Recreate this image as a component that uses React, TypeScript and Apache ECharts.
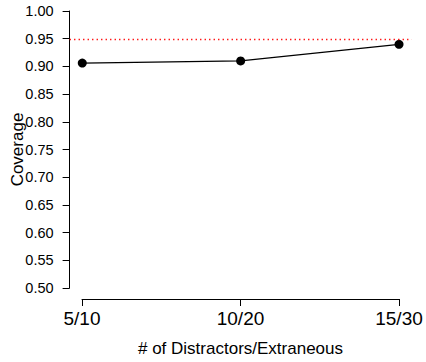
import React, { useEffect, useRef } from "react";
import * as echarts from "echarts";

const categories = ["5/10", "10/20", "15/30"];
const coverage = [0.906, 0.91, 0.94];
const nominal = 0.95;
const yTicks = { min: 0.5, max: 1.0, step: 0.05 };
const xTitle = "# of Distractors/Extraneous";
const yTitle = "Coverage";

const FONT = "'Liberation Sans', Arial, Helvetica, sans-serif";

export default function App() {
  const ref = useRef<HTMLDivElement>(null);
  useEffect(() => {
    if (!ref.current) return;
    const chart = echarts.init(ref.current, null, { renderer: "svg" });
    const pts = coverage.map((v, i) => [i + 1, v]);
    chart.setOption({
      animation: false,
      backgroundColor: "#ffffff",
      grid: [
        { left: 69.6, right: 14.3, top: 0, bottom: 63, outerBoundsMode: "none" },
        { left: 69.6, width: 10, top: 11, bottom: 74, outerBoundsMode: "none" },
        { left: 82, right: 27, top: 298, height: 1, outerBoundsMode: "none" },
      ],
      xAxis: [
        { gridIndex: 0, type: "value", min: 0.92, max: 3.08, show: false },
        { gridIndex: 1, type: "value", show: false },
        {
          gridIndex: 2,
          type: "category",
          data: categories,
          boundaryGap: false,
          position: "bottom",
          axisLine: { show: true, lineStyle: { color: "#000", width: 1 } },
          axisTick: { show: true, length: 7, lineStyle: { color: "#000", width: 1 } },
          axisLabel: { show: true, color: "#000", fontSize: 19, fontFamily: FONT, margin: 10 },
          splitLine: { show: false },
          name: xTitle,
          nameLocation: "middle",
          nameGap: 41,
          nameMoveOverlap: false,
          nameTextStyle: { color: "#000", fontSize: 17, fontFamily: FONT },
        },
      ],
      yAxis: [
        { gridIndex: 0, type: "value", min: 0.48, max: 1.02, show: false },
        {
          gridIndex: 1,
          type: "value",
          min: yTicks.min,
          max: yTicks.max,
          interval: yTicks.step,
          position: "left",
          axisLine: { show: true, lineStyle: { color: "#000", width: 1 } },
          axisTick: { show: true, length: 7, lineStyle: { color: "#000", width: 1 } },
          axisLabel: {
            show: true,
            color: "#000",
            fontSize: 14.5,
            fontFamily: FONT,
            margin: 16,
            hideOverlap: false,
            formatter: (v: number) => v.toFixed(2),
          },
          splitLine: { show: false },
          name: yTitle,
          nameLocation: "middle",
          nameRotate: 90,
          nameGap: 44,
          nameMoveOverlap: false,
          nameTextStyle: { color: "#000", fontSize: 17, fontFamily: FONT },
        },
        { gridIndex: 2, type: "value", show: false },
      ],
      series: [
        {
          type: "line",
          xAxisIndex: 0,
          yAxisIndex: 0,
          data: pts,
          symbol: "circle",
          symbolSize: 9,
          lineStyle: { color: "#000", width: 1.3 },
          itemStyle: { color: "#000" },
          z: 3,
        },
        {
          type: "line",
          xAxisIndex: 0,
          yAxisIndex: 0,
          data: [],
          z: 2,
          markLine: {
            silent: true,
            symbol: "none",
            label: { show: false },
            lineStyle: { color: "#ff0000", type: [1.3, 3.2], width: 1.4, opacity: 1 },
            data: [{ yAxis: nominal }],
          },
        },
      ],
    });
    return () => chart.dispose();
  }, []);
  return (
    <div
      ref={ref}
      style={{ position: "fixed", left: 0, top: 0, width: 426, height: 362, background: "#fff" }}
    />
  );
}
